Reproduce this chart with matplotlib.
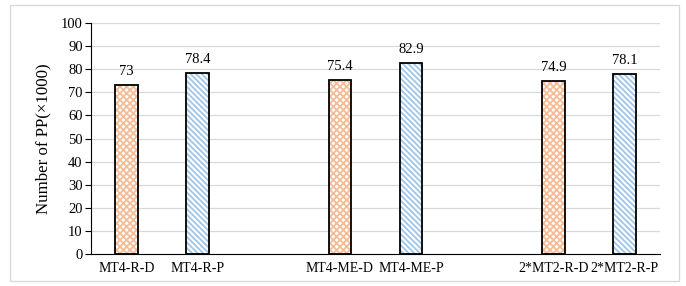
import numpy as np
import matplotlib.pyplot as plt
from matplotlib.patches import Rectangle

# ----------------------------
# Data
# ----------------------------
groups = ["MT4-R", "MT4-ME", "2*MT2-R"]
kinds = ["D", "P"]
values = [73, 78.4, 75.4, 82.9, 74.9, 78.1]
labels = [f"{g}-{k}" for g in groups for k in kinds]
value_text = ["73", "78.4", "75.4", "82.9", "74.9", "78.1"]

# ----------------------------
# Styles
# ----------------------------
hatch_color = {"D": "#f5bc96", "P": "#9fc5e8"}
hatch_kind = {"D": "xxxxx", "P": "\\\\\\\\\\\\"}

plt.rcParams["font.family"] = ["Liberation Serif", "DejaVu Serif"]
plt.rcParams["hatch.linewidth"] = 1.3

fig = plt.figure(figsize=(6.86, 2.86), dpi=100)
ax = fig.add_axes([91 / 686, 32 / 286, 569 / 686, 231 / 286])

# outer border of the chart area
fig.patches.append(Rectangle((10 / 686, 5 / 286), 669 / 686, 276 / 286,
                             transform=fig.transFigure, fill=False,
                             edgecolor="#d9d9d9", linewidth=1.0))

# each group takes 2 slots plus an empty slot between groups
x = np.array([gi * 3 + ki for gi in range(len(groups)) for ki in range(len(kinds))])
width = 0.32

for xi, v, lab, txt in zip(x, values, labels, value_text):
    k = lab.split("-")[-1]
    ax.bar(xi, v, width, color="white", edgecolor=hatch_color[k],
           hatch=hatch_kind[k], linewidth=0, zorder=2)
    ax.bar(xi, v, width, fill=False, edgecolor="black", linewidth=1.3, zorder=3)
    ax.text(xi, v + 3.0, txt, ha="center", va="bottom", fontsize=10.5)

ax.set_xlim(-0.5, 7.5)
ax.set_ylim(0, 100)
ax.set_yticks(np.arange(0, 101, 10))
ax.yaxis.grid(True, color="#d9d9d9", linewidth=0.9, zorder=0)
ax.set_axisbelow(True)
ax.set_xticks(x)
ax.set_xticklabels(labels, fontsize=10)
ax.tick_params(axis="x", length=0, pad=6)
ax.tick_params(axis="y", length=4, labelsize=10.5, pad=2)
ax.set_ylabel("Number of PP(×1000)", fontsize=12.2, labelpad=7)

for s in ["top", "right"]:
    ax.spines[s].set_visible(False)
ax.spines["left"].set_color("black")
ax.spines["bottom"].set_color("black")

fig.savefig("out.png", dpi=100)
